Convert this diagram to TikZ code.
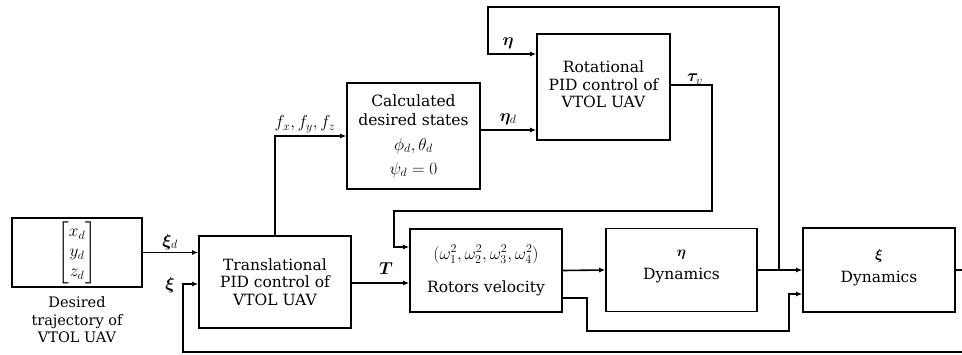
\documentclass[tikz,border=0pt]{standalone}
\usepackage{amsmath}
\usepackage{bm}
\usepackage{fontspec}
\setmainfont{DejaVu Serif}
\usetikzlibrary{arrows.meta,calc}
\newcommand{\mymath}[1]{{\fontsize{17}{20}\selectfont$#1$}}
\begin{document}
\begin{tikzpicture}[x=1pt,y=-1pt,
  blk/.style={draw,line width=1.6pt,align=center,inner sep=0pt,
    font=\fontsize{15.5}{17.5}\selectfont},
  wire/.style={line width=1.6pt},
  arr/.style={line width=1.6pt,-{Latex[length=6pt,width=5pt]}},
  lbl/.style={font=\fontsize{14}{17}\selectfont,inner sep=0pt}]
\useasboundingbox (0,0) rectangle (962,354);
% blocks
\node[blk,minimum width=130pt,minimum height=69pt] (des) at (77,252.5)
  {\mymath{\begin{bmatrix} x_d\\ y_d\\ z_d\end{bmatrix}}};
\node[lbl,align=center,font=\fontsize{14.5}{17.5}\selectfont] (destxt) at (77,320)
  {Desired\\trajectory of\\VTOL UAV};
\node[blk,minimum width=152pt,minimum height=92pt] (tr) at (275,282)
  {Translational\\PID control of\\VTOL UAV};
\node[blk,minimum width=133pt,minimum height=106pt,
  font=\fontsize{15.5}{19}\selectfont] (calc) at (413.5,136)
  {Calculated\\desired states\\[6pt]\mymath{\phi_d,\theta_d}\\[5pt]\mymath{\psi_d=0}};
\node[blk,minimum width=133pt,minimum height=106pt] (rot) at (603.5,87)
  {Rotational\\PID control of\\VTOL UAV\\[-12pt]\mbox{}};
\node[blk,minimum width=152pt,minimum height=83pt,
  font=\fontsize{15.5}{18}\selectfont] (rv) at (486,270.5)
  {\mymath{(\omega_1^2,\omega_2^2,\omega_3^2,\omega_4^2)}\\[15pt]Rotors velocity\\[-14pt]\mbox{}};
\node[blk,minimum width=151pt,minimum height=83pt,
  font=\fontsize{15.5}{23}\selectfont] (ed) at (681.5,270)
  {$\bm{\eta}$\\Dynamics\\[-12pt]\mbox{}};
\node[blk,minimum width=152pt,minimum height=84pt,
  font=\fontsize{15.5}{23}\selectfont] (xd) at (879,270)
  {$\bm{\xi}$\\Dynamics\\[-14pt]\mbox{}};
% helper coordinates
\coordinate (jn) at (779,270);
\coordinate (etop) at (488,7);
\coordinate (tv1) at (712,85);
\coordinate (tv2) at (394,211);
\coordinate (lo1) at (587,298);
\coordinate (lo2) at (789,331);
\coordinate (fb1) at (976,352);
\coordinate (fb2) at (183,284);
% connectors
\draw[arr] (des.east) -- (des.east -| tr.west);
\draw[arr] (tr.north) |- (calc.west);
\draw[arr] ($(calc.east)+(0,-6)$) -- ($(calc.east -| rot.west)+(0,-6)$);
\draw[arr] (rot.east |- tv1) -- (tv1) |- (tv2) |- (rv.west |- 0,247);
\draw[arr] (tr.east |- 0,283) -- (rv.west |- 0,283);
\draw[arr] (rv.east) -- (ed.west);
\draw[arr] (rv.east |- lo1) -- (lo1) |- (lo2) |- (xd.west |- 0,294);
\draw[arr] (ed.east) -- (xd.west);
\draw[arr] (jn) |- (etop) |- (rot.west |- 0,54);
\draw[arr] (xd.east) -| (fb1) -| (fb2) -- (fb2 -| tr.west);
% labels
\node[lbl] (lxid) at (170,242) {\mymath{\bm{\xi}_d}};
\node[lbl] (lxi) at (170,285) {\mymath{\bm{\xi}}};
\node[lbl] (lf) at (305,124) {\mymath{f_x,f_y,f_z}};
\node[lbl] (led) at (508,119) {\mymath{\bm{\eta}_d}};
\node[lbl] (le) at (508,43) {\mymath{\bm{\eta}}};
\node[lbl] (ltv) at (695,79) {\mymath{\bm{\tau}_v}};
\node[lbl] (lT) at (386,269) {\mymath{\bm{T}}};
\end{tikzpicture}
\end{document}
